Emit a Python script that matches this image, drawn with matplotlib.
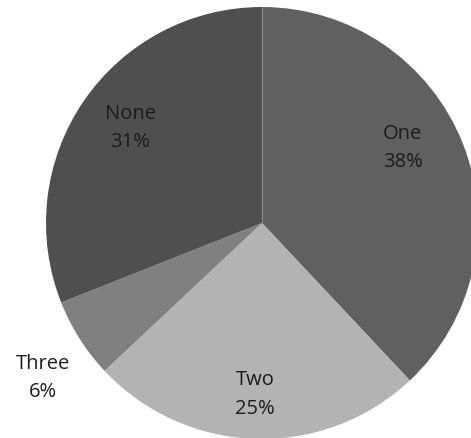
import numpy as np
import matplotlib
matplotlib.use('Agg')
import matplotlib.pyplot as plt

# share of respondents per answer
labels = ['One', 'Two', 'Three', 'None']
shares = [38, 25, 6, 31]
colors = ['#606060', '#b3b3b3', '#808080', '#4f4f4f']
# label placement: radius as a fraction of the pie radius, and angular nudge in degrees
label_r = [0.74, 0.79, 1.24, 0.755]
label_turn = [6.9, -0.5, 2.6, -1.8]

plt.rcParams['font.family'] = ['Open Sans', 'DejaVu Sans']

fig = plt.figure(figsize=(4.71, 4.39), dpi=100)
ax = fig.add_axes([0, 0, 1, 1])

cx, cy, R = 262, 215, 216
wedges, _ = ax.pie(shares, colors=colors, startangle=90, counterclock=False,
                   radius=R, center=(cx, cy), frame=True,
                   wedgeprops=dict(linewidth=0, antialiased=True))
ax.set_xlim(0, 471)
ax.set_ylim(0, 439)
ax.set_aspect('equal')
ax.axis('off')

for w, lab, s, r, t in zip(wedges, labels, shares, label_r, label_turn):
    ang = np.deg2rad((w.theta1 + w.theta2) / 2 + t)
    x = cx + r * R * np.cos(ang)
    y = cy + r * R * np.sin(ang)
    ax.text(x, y, '%s\n%d%%' % (lab, s), ha='center', va='center',
            fontsize=14.5, color='#1c1c1c', linespacing=1.55)

# thin light seam at the top where the first and last slices meet
ax.plot([cx, cx], [cy, cy + R], color='#8a8a8a', lw=0.8)

fig.savefig('out.png', dpi=100)
